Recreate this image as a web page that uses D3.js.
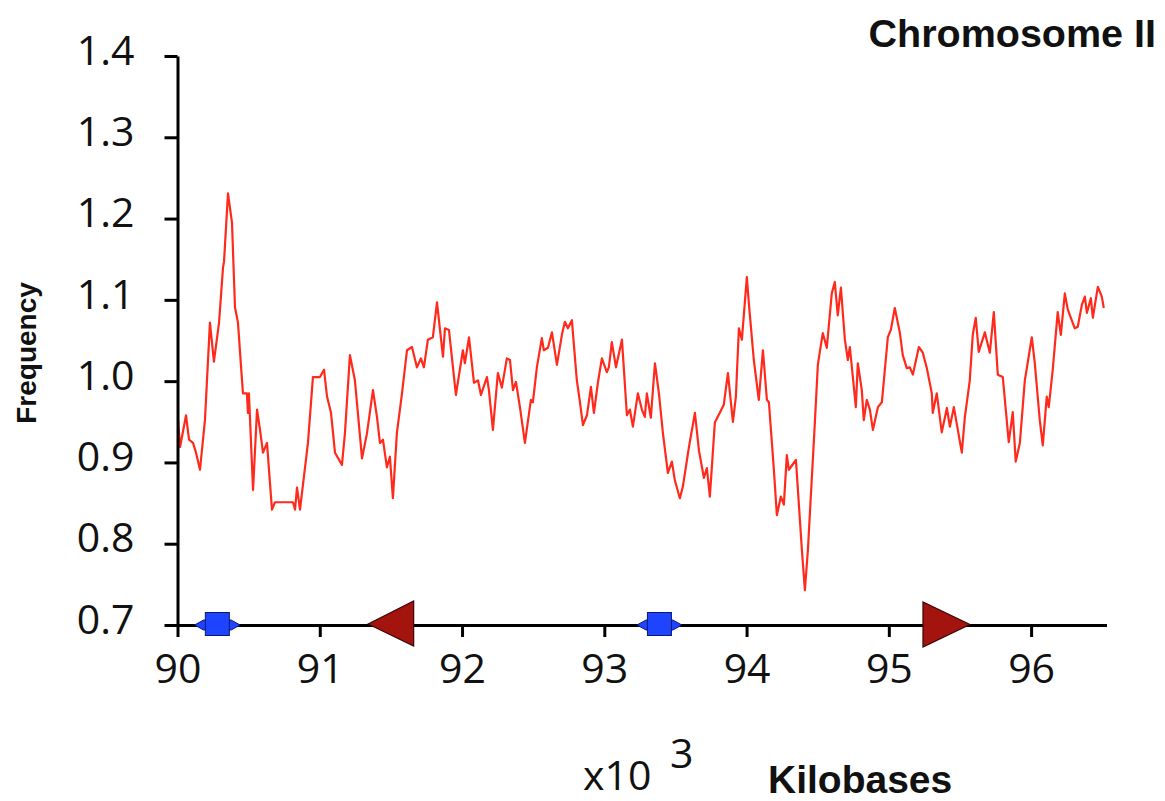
<!DOCTYPE html>
<html><head><meta charset="utf-8">
<script src="https://cdn.jsdelivr.net/npm/d3@7"></script>
<style>body{margin:0;background:#fff} svg{display:block}</style>
</head><body><svg id="c" width="1165" height="801"></svg>
<script>
// ---- data ----
const positionKb = [90.004,90.018,90.060,90.081,90.109,90.130,90.158,90.193,90.228,90.256,90.292,90.320,90.327,90.355,90.383,90.404,90.425,90.460,90.488,90.495,90.502,90.531,90.559,90.580,90.601,90.629,90.664,90.685,90.812,90.826,90.840,90.861,90.917,90.952,91.001,91.030,91.051,91.079,91.107,91.156,91.177,91.212,91.247,91.297,91.332,91.374,91.402,91.423,91.444,91.472,91.493,91.514,91.542,91.578,91.613,91.648,91.683,91.711,91.732,91.760,91.795,91.824,91.866,91.880,91.908,91.957,92.006,92.020,92.049,92.084,92.112,92.133,92.175,92.189,92.217,92.252,92.280,92.315,92.337,92.358,92.379,92.407,92.442,92.484,92.498,92.526,92.561,92.575,92.604,92.632,92.667,92.702,92.723,92.744,92.772,92.807,92.829,92.850,92.878,92.906,92.927,92.955,92.983,93.018,93.032,93.053,93.082,93.124,93.159,93.180,93.201,93.236,93.264,93.285,93.299,93.327,93.356,93.384,93.412,93.447,93.475,93.496,93.531,93.552,93.595,93.637,93.665,93.700,93.721,93.742,93.777,93.812,93.840,93.869,93.904,93.925,93.946,93.967,94.002,94.016,94.051,94.086,94.115,94.143,94.157,94.192,94.213,94.241,94.262,94.283,94.297,94.347,94.389,94.410,94.431,94.480,94.501,94.522,94.536,94.564,94.599,94.620,94.641,94.663,94.691,94.712,94.726,94.754,94.768,94.782,94.810,94.824,94.845,94.867,94.888,94.923,94.951,94.993,95.014,95.042,95.077,95.098,95.126,95.148,95.169,95.211,95.239,95.267,95.302,95.309,95.337,95.372,95.408,95.429,95.457,95.485,95.513,95.534,95.569,95.590,95.611,95.632,95.675,95.710,95.738,95.766,95.801,95.843,95.871,95.892,95.921,95.956,96.005,96.026,96.061,96.082,96.110,96.124,96.152,96.187,96.209,96.237,96.258,96.307,96.328,96.357,96.378,96.392,96.420,96.434,96.469,96.497,96.511];
const frequency = [0.952,0.919,0.958,0.928,0.924,0.912,0.891,0.952,1.072,1.024,1.072,1.140,1.147,1.231,1.195,1.091,1.072,0.985,0.985,0.961,0.985,0.866,0.965,0.940,0.912,0.924,0.842,0.851,0.851,0.842,0.869,0.842,0.924,1.005,1.005,1.014,0.981,0.961,0.912,0.897,0.936,1.032,1.001,0.905,0.936,0.989,0.956,0.924,0.928,0.894,0.907,0.856,0.936,0.985,1.038,1.042,1.017,1.028,1.017,1.051,1.054,1.097,1.030,1.065,1.063,0.983,1.038,1.022,1.054,0.998,1.001,0.983,1.005,0.989,0.940,1.010,0.992,1.028,1.026,0.989,0.999,0.968,0.924,0.977,0.974,1.017,1.053,1.038,1.041,1.060,1.020,1.057,1.073,1.065,1.075,1.001,0.974,0.946,0.958,0.993,0.961,0.998,1.028,1.011,1.017,1.048,1.017,1.051,0.958,0.965,0.944,0.985,0.965,0.956,0.985,0.955,1.022,0.985,0.936,0.887,0.901,0.878,0.856,0.870,0.919,0.961,0.915,0.881,0.893,0.858,0.949,0.961,0.971,1.010,0.950,0.981,1.065,1.051,1.128,1.096,1.026,0.977,1.038,0.977,0.974,0.891,0.835,0.858,0.848,0.909,0.891,0.903,0.792,0.743,0.792,0.949,1.020,1.044,1.059,1.041,1.108,1.122,1.081,1.115,1.051,1.026,1.042,0.993,0.968,1.022,0.989,0.952,0.977,0.965,0.940,0.968,0.974,1.054,1.063,1.090,1.060,1.032,1.016,1.017,1.008,1.042,1.035,1.016,0.985,0.961,0.985,0.937,0.967,0.944,0.968,0.940,0.912,0.955,1.001,1.057,1.078,1.036,1.060,1.035,1.085,1.008,1.005,0.925,0.962,0.901,0.924,1.001,1.054,1.022,0.952,0.921,0.981,0.968,1.014,1.085,1.057,1.108,1.088,1.065,1.067,1.094,1.104,1.084,1.102,1.078,1.116,1.104,1.090];
const xTicks = [90,91,92,93,94,95,96];
const yTicks = [0.7,0.8,0.9,1.0,1.1,1.2,1.3,1.4];
// features along the chromosome (kb)
const blueStart = [90.12, 93.23];
const blueEnd   = [90.44, 93.545];
const redStart  = [91.34, 95.24];
const redEnd    = [91.66, 95.57];
const redStrand = ["-", "+"];

// ---- drawing ----
const svg = d3.select("#c");
const x = d3.scaleLinear().domain([90, 96.53]).range([177.5, 1106.5]);
const y = d3.scaleLinear().domain([0.7, 1.4]).range([625, 56]);
const tickFont = "'Open Sans', sans-serif";
const boldFont = "'Liberation Sans', Arial, sans-serif";

// data line
svg.append("path")
  .datum(d3.zip(positionKb, frequency))
  .attr("fill", "none")
  .attr("stroke", "#ff2a1c")
  .attr("stroke-width", 2.2)
  .attr("stroke-linejoin", "round")
  .attr("d", d3.line().x(d => x(d[0])).y(d => y(d[1])));

// y axis
const gy = svg.append("g").attr("transform", `translate(${x(90)},0)`)
  .call(d3.axisLeft(y).tickValues(yTicks).tickSize(13).tickSizeOuter(0).tickFormat(d3.format(".1f")));
gy.select(".domain").attr("stroke", "#000").attr("stroke-width", 3);
gy.selectAll(".tick line").attr("stroke", "#000").attr("stroke-width", 3);
gy.selectAll(".tick text").attr("x", -43).attr("dy", "0.2em")
  .attr("font-family", tickFont).attr("font-size", 41).attr("fill", "#111");

// x axis
const gx = svg.append("g").attr("transform", `translate(0,${y(0.7)})`)
  .call(d3.axisBottom(x).tickValues(xTicks).tickSize(12).tickSizeOuter(0).tickFormat(d3.format("d")));
gx.select(".domain").attr("stroke", "#000").attr("stroke-width", 3);
gx.selectAll(".tick line").attr("stroke", "#000").attr("stroke-width", 3);
gx.selectAll(".tick text").attr("y", 58).attr("dy", 0)
  .attr("font-family", tickFont).attr("font-size", 41).attr("fill", "#111");

// blue features
const y0 = y(0.7);
const blue = svg.append("g");
blueStart.forEach((s, i) => {
  const a = x(s), b = x(blueEnd[i]), c = (a + b) / 2;
  blue.append("polygon")
    .attr("points", [[a, y0], [a + 9, y0 - 5], [b - 9, y0 - 5], [b, y0], [b - 9, y0 + 5], [a + 9, y0 + 5]].map(p => p.join(",")).join(" "))
    .attr("fill", "#1e44ff").attr("stroke", "#0a1a70").attr("stroke-width", 1);
  blue.append("rect")
    .attr("x", c - 12).attr("y", y0 - 12.5).attr("width", 24).attr("height", 23)
    .attr("fill", "#1e44ff").attr("stroke", "#0a1a70").attr("stroke-width", 1);
});

// red features
redStart.forEach((s, i) => {
  const a = x(s), b = x(redEnd[i]);
  const pts = redStrand[i] === "-"
    ? [[a, y0 - 1], [b, y0 - 24], [b, y0 + 21]]
    : [[a, y0 - 23], [a, y0 + 22], [b, y0 - 0.5]];
  svg.append("polygon").attr("points", pts.map(p => p.join(",")).join(" "))
    .attr("fill", "#a3140f").attr("stroke", "#3a0505").attr("stroke-width", 1.2);
});

// texts
svg.append("text").attr("x", 1156).attr("y", 47).attr("text-anchor", "end")
  .attr("font-family", boldFont).attr("font-weight", "bold")
  .attr("font-size", 39.5).attr("fill", "#111").text("Chromosome II");
svg.append("text").attr("transform", "translate(36,353) rotate(-90)").attr("text-anchor", "middle")
  .attr("font-family", boldFont).attr("font-weight", "bold")
  .attr("font-size", 28).attr("fill", "#111").text("Frequency");
svg.append("text").attr("x", 583).attr("y", 790)
  .attr("font-family", tickFont).attr("font-size", 41).attr("fill", "#111").text("x10");
svg.append("text").attr("x", 670).attr("y", 768)
  .attr("font-family", tickFont).attr("font-size", 41).attr("fill", "#111").text("3");
svg.append("text").attr("x", 768).attr("y", 793)
  .attr("font-family", boldFont).attr("font-weight", "bold")
  .attr("font-size", 39).attr("fill", "#111").text("Kilobases");
</script></body></html>
